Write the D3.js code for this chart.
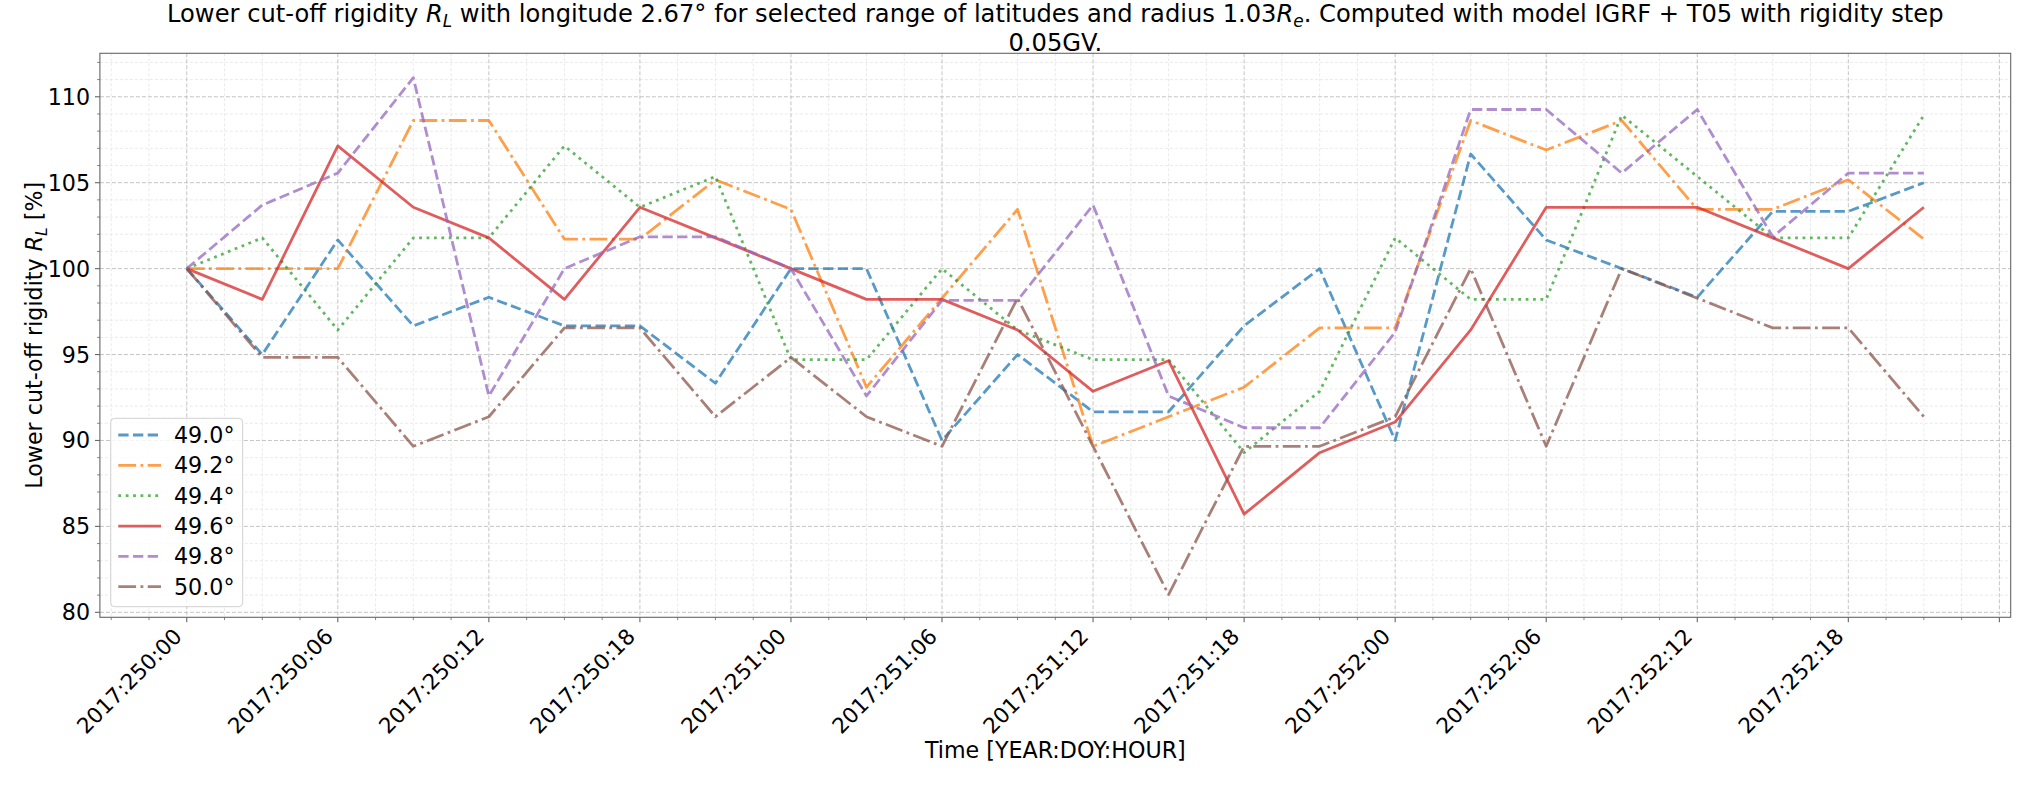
<!DOCTYPE html>
<html><head><meta charset="utf-8">
<script src="https://cdn.jsdelivr.net/npm/d3@7"></script>
<style>
body{margin:0;background:#fff}
text{font-family:"DejaVu Sans",sans-serif;fill:#000}
</style>
</head><body>
<svg id="chart" width="2034" height="785" style="display:block"></svg>
<script>
// ---- data ----
const hours = [0,3,6,9,12,15,18,21,24,27,30,33,36,39,42,45,48,51,54,57,60,63,66,69];
const tickHours = [0,6,12,18,24,30,36,42,48,54,60,66,72];
const tickLabels = ["2017:250:00","2017:250:06","2017:250:12","2017:250:18",
  "2017:251:00","2017:251:06","2017:251:12","2017:251:18",
  "2017:252:00","2017:252:06","2017:252:12","2017:252:18",""];
const yTicks = [80,85,90,95,100,105,110];
const latitudes = ["49.0°","49.2°","49.4°","49.6°","49.8°","50.0°"];
const lat49_0 = [100,95.0,101.67,96.67,98.33,96.67,96.67,93.33,100,100,90.0,95.0,91.67,91.67,96.67,100,90.0,106.67,101.67,100,98.33,103.33,103.33,105.0];
const lat49_2 = [100,100,100,108.62,108.62,101.72,101.72,105.17,103.45,93.10,98.28,103.45,89.66,91.38,93.10,96.55,96.55,108.62,106.90,108.62,103.45,103.45,105.17,101.72];
const lat49_4 = [100,101.79,96.43,101.79,101.79,107.14,103.57,105.36,94.7,94.7,100,96.43,94.7,94.7,89.29,92.86,101.79,98.21,98.21,108.93,105.36,101.79,101.79,108.93];
const lat49_6 = [100,98.21,107.14,103.57,101.79,98.21,103.57,101.79,100,98.21,98.21,96.43,92.86,94.64,85.71,89.29,91.07,96.43,103.57,103.57,103.57,101.79,100,103.57];
const lat49_8 = [100,103.70,105.56,111.11,92.59,100,101.85,101.85,100,92.59,98.15,98.15,103.70,92.59,90.74,90.74,96.30,109.26,109.26,105.56,109.26,101.85,105.56,105.56];
const lat50_0 = [100,94.83,94.83,89.66,91.38,96.55,96.55,91.38,94.83,91.38,89.66,98.28,89.66,81.03,89.66,89.66,91.38,100,89.66,100,98.28,96.55,96.55,91.38];
const seriesValues = [lat49_0,lat49_2,lat49_4,lat49_6,lat49_8,lat50_0];

// ---- styles ----
const colors = ["#1f77b4","#ff7f0e","#2ca02c","#d62728","#9467bd","#8c564b"];
const dashes = ["10.3,4.4","17.8,4.4,2.8,4.4","2.8,4.6",null,"10.3,4.4","17.8,4.4,2.8,4.4"];
const LW = 2.78, ALPHA = 0.75, FS = 22.2, XFS = 21.5, TFS = 24.2;

const svg = d3.select("#chart");
svg.append("rect").attr("width",2034).attr("height",785).attr("fill","#fff");

const L = 99.9, R = 2010.7, T = 53.3, B = 617.3;
const x = d3.scaleLinear().domain([-3.45, 72.45]).range([L, R]);
const y = d3.scaleLinear().domain([79.71, 112.53]).range([B, T]);

// minor grid
const xMinor = d3.range(-3, 73.5, 1.5).filter(h => h % 6 !== 0 && x(h) > L && x(h) < R);
const yMinor = d3.range(80, 113, 1).filter(v => v % 5 !== 0);
const g = svg.append("g");
g.selectAll(".vx").data(xMinor).enter().append("line")
  .attr("x1", d => x(d)).attr("x2", d => x(d)).attr("y1", T).attr("y2", B)
  .attr("stroke", "#e4e4e4").attr("stroke-width", 0.8).attr("stroke-dasharray", "3,2");
g.selectAll(".hy").data(yMinor).enter().append("line")
  .attr("x1", L).attr("x2", R).attr("y1", d => y(d)).attr("y2", d => y(d))
  .attr("stroke", "#e4e4e4").attr("stroke-width", 0.8).attr("stroke-dasharray", "3,2");
// major grid
g.selectAll(".vX").data(tickHours).enter().append("line")
  .attr("x1", d => x(d)).attr("x2", d => x(d)).attr("y1", T).attr("y2", B)
  .attr("stroke", "#bdbdbd").attr("stroke-width", 0.9).attr("stroke-dasharray", "4,2");
g.selectAll(".hY").data(yTicks).enter().append("line")
  .attr("x1", L).attr("x2", R).attr("y1", d => y(d)).attr("y2", d => y(d))
  .attr("stroke", "#bdbdbd").attr("stroke-width", 0.9).attr("stroke-dasharray", "4,2");

// lines
const lineGen = d3.line().x((d,i) => x(hours[i])).y(d => y(d));
seriesValues.forEach((vals, k) => {
  const p = svg.append("path").datum(vals).attr("d", lineGen)
    .attr("fill", "none").attr("stroke", colors[k]).attr("stroke-width", LW)
    .attr("stroke-opacity", ALPHA).attr("stroke-linejoin", "round");
  if (dashes[k]) p.attr("stroke-dasharray", dashes[k]);
});

// spines
svg.append("rect").attr("x", L).attr("y", T).attr("width", R - L).attr("height", B - T)
  .attr("fill", "none").attr("stroke", "#666").attr("stroke-width", 1.1);

// x ticks
const ax = svg.append("g");
ax.selectAll(".tk").data(tickHours).enter().append("line")
  .attr("x1", d => x(d)).attr("x2", d => x(d)).attr("y1", B).attr("y2", B + 4.9)
  .attr("stroke", "#666").attr("stroke-width", 1.1);
ax.selectAll(".mtk").data(xMinor).enter().append("line")
  .attr("x1", d => x(d)).attr("x2", d => x(d)).attr("y1", B).attr("y2", B + 2.8)
  .attr("stroke", "#666").attr("stroke-width", 0.8);
ax.selectAll(".tl").data(tickHours).enter().append("text")
  .attr("transform", d => `translate(${x(d) - 3.5},${B + 20.5}) rotate(-45)`)
  .attr("text-anchor", "end").attr("font-size", XFS)
  .text((d,i) => tickLabels[i]);

// y ticks
ax.selectAll(".ytk").data(yTicks).enter().append("line")
  .attr("x1", L - 4.9).attr("x2", L).attr("y1", d => y(d)).attr("y2", d => y(d))
  .attr("stroke", "#666").attr("stroke-width", 1.1);
ax.selectAll(".ymtk").data(yMinor).enter().append("line")
  .attr("x1", L - 2.8).attr("x2", L).attr("y1", d => y(d)).attr("y2", d => y(d))
  .attr("stroke", "#666").attr("stroke-width", 0.8);
ax.selectAll(".ytl").data(yTicks).enter().append("text")
  .attr("x", L - 9.8).attr("y", d => y(d)).attr("dy", "0.36em")
  .attr("text-anchor", "end").attr("font-size", FS).text(d => d);

// axis labels
svg.append("text").attr("x", (L + R) / 2).attr("y", 758)
  .attr("text-anchor", "middle").attr("font-size", FS).text("Time [YEAR:DOY:HOUR]");
const yl = svg.append("text").attr("transform", `translate(42,${(T + B) / 2}) rotate(-90)`)
  .attr("text-anchor", "middle").attr("font-size", FS);
yl.append("tspan").text("Lower cut-off rigidity ");
yl.append("tspan").attr("font-style", "italic").text("R");
yl.append("tspan").attr("font-style", "italic").attr("font-size", FS * 0.7).attr("dy", 4.5).text("L");
yl.append("tspan").attr("dy", -4.5).text("  [%]");

// title
const t1 = svg.append("text").attr("x", (L + R) / 2).attr("y", 22)
  .attr("text-anchor", "middle").attr("font-size", TFS);
t1.append("tspan").text("Lower cut-off rigidity ");
t1.append("tspan").attr("font-style", "italic").text("R");
t1.append("tspan").attr("font-style", "italic").attr("font-size", TFS * 0.7).attr("dy", 5).text("L");
t1.append("tspan").attr("dy", -5).text(" with longitude 2.67° for selected range of latitudes and radius 1.03");
t1.append("tspan").attr("font-style", "italic").text("R");
t1.append("tspan").attr("font-style", "italic").attr("font-size", TFS * 0.7).attr("dy", 5).text("e");
t1.append("tspan").attr("dy", -5).text(". Computed with model IGRF + T05 with rigidity step");
svg.append("text").attr("x", (L + R) / 2).attr("y", 51)
  .attr("text-anchor", "middle").attr("font-size", TFS).text("0.05GV.");

// legend
const lg = svg.append("g");
lg.append("rect").attr("x", 110.7).attr("y", 418.3).attr("width", 132).attr("height", 188.4)
  .attr("rx", 4).attr("fill", "#fff").attr("fill-opacity", 0.8)
  .attr("stroke", "#d0d0d0").attr("stroke-width", 1);
const rowY = d3.scaleLinear().domain([0, 5]).range([435, 586.7]);
latitudes.forEach((lab, k) => {
  const yy = rowY(k);
  const ln = lg.append("line").attr("x1", 118.3).attr("x2", 161).attr("y1", yy).attr("y2", yy)
    .attr("stroke", colors[k]).attr("stroke-width", LW).attr("stroke-opacity", ALPHA);
  if (dashes[k]) ln.attr("stroke-dasharray", dashes[k]);
  lg.append("text").attr("x", 174).attr("y", yy).attr("dy", "0.36em")
    .attr("font-size", FS).text(lab);
});
</script>
</body></html>
